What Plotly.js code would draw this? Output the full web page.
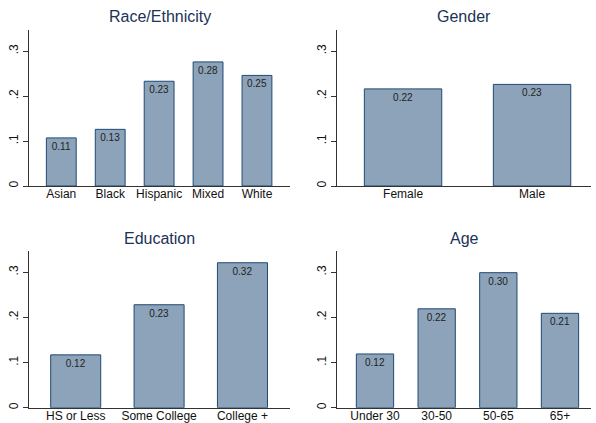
<!DOCTYPE html>
<html>
<head>
<meta charset="utf-8">
<script src="https://cdn.plot.ly/plotly-3.0.1.min.js"></script>
<style>html,body{margin:0;padding:0;background:#fff;}#chart{width:596px;height:423px;}</style>
</head>
<body>
<div id="chart"></div>
<script>
// Data
const raceCats = ["Asian", "Black", "Hispanic", "Mixed", "White"];
const raceVals = [0.107, 0.126, 0.233, 0.276, 0.246];
const genderCats = ["Female", "Male"];
const genderVals = [0.216, 0.226];
const eduCats = ["HS or Less", "Some College", "College +"];
const eduVals = [0.117, 0.228, 0.321];
const ageCats = ["Under 30", "30-50", "50-65", "65+"];
const ageVals = [0.119, 0.219, 0.299, 0.209];
const panelTitles = ["Race/Ethnicity", "Gender", "Education", "Age"];
const yTickVals = [0, 0.1, 0.2, 0.3];
const yTickText = ["0", ".1", ".2", ".3"];

const FILL = "#8ca3b9";
const EDGE = "#1f4a73";
const FONT = "Liberation Sans, Arial, sans-serif";

function barTrace(cats, vals, xa, ya, w) {
  return {
    type: "bar", x: cats, y: vals, xaxis: xa, yaxis: ya, width: w,
    marker: {color: FILL, line: {color: EDGE, width: 1}},
    texttemplate: "%{y:.2f}", textposition: "inside", insidetextanchor: "end",
    textangle: 0,
    textfont: {family: FONT, size: 10, color: "#222"},
    cliponaxis: false, hoverinfo: "skip"
  };
}

const data = [
  barTrace(raceCats, raceVals, "x", "y", 0.61),
  barTrace(genderCats, genderVals, "x2", "y2", 0.6),
  barTrace(eduCats, eduVals, "x3", "y3", 0.6),
  barTrace(ageCats, ageVals, "x4", "y4", 0.605)
];

const W = 596, H = 423;
function xax(px0, px1, range) {
  return {
    domain: [px0 / W, px1 / W], range: range, type: "category",
    showline: true, linecolor: "#333", linewidth: 1,
    ticks: "", ticklabelstandoff: -3,
    showgrid: false, zeroline: false, fixedrange: true,
    tickfont: {family: FONT, size: 12, color: "#111"}
  };
}
function yax(pxTop, pxBottom, anchor) {
  return {
    domain: [1 - pxBottom / H, 1 - pxTop / H], range: [0, 0.347],
    anchor: anchor,
    showline: true, linecolor: "#333", linewidth: 1,
    ticks: "outside", ticklen: 5, tickcolor: "#333", tickwidth: 1,
    tickvals: yTickVals, ticktext: yTickText, tickangle: -90,
    showgrid: false, zeroline: false, fixedrange: true,
    tickfont: {family: FONT, size: 12, color: "#111"}
  };
}

const layout = {
  width: W, height: H,
  margin: {l: 0, r: 0, t: 0, b: 0},
  paper_bgcolor: "#fff", plot_bgcolor: "#fff",
  showlegend: false,
  font: {family: FONT},
  xaxis: Object.assign(xax(29, 290, [-0.66, 4.675]), {anchor: "y"}),
  yaxis: yax(30, 186, "x"),
  xaxis2: Object.assign(xax(337, 591, [-0.512, 1.457]), {anchor: "y2"}),
  yaxis2: yax(30, 186, "x2"),
  xaxis3: Object.assign(xax(29, 290, [-0.56, 2.57]), {anchor: "y3"}),
  yaxis3: yax(251, 407.7, "x3"),
  xaxis4: Object.assign(xax(337, 591, [-0.616, 3.503]), {anchor: "y4"}),
  yaxis4: yax(251, 407.7, "x4"),
  annotations: [
    {text: panelTitles[0], x: 159.5 / W, y: 1 - 17 / H},
    {text: panelTitles[1], x: 464 / W, y: 1 - 17 / H},
    {text: panelTitles[2], x: 159.5 / W, y: 1 - 238 / H},
    {text: panelTitles[3], x: 464 / W, y: 1 - 238 / H}
  ].map(a => Object.assign(a, {
    xref: "paper", yref: "paper", xanchor: "center", yanchor: "middle",
    showarrow: false, font: {family: FONT, size: 16, color: "#1c3257"}
  }))
};

Plotly.newPlot("chart", data, layout, {displayModeBar: false, staticPlot: true});
</script>
</body>
</html>
